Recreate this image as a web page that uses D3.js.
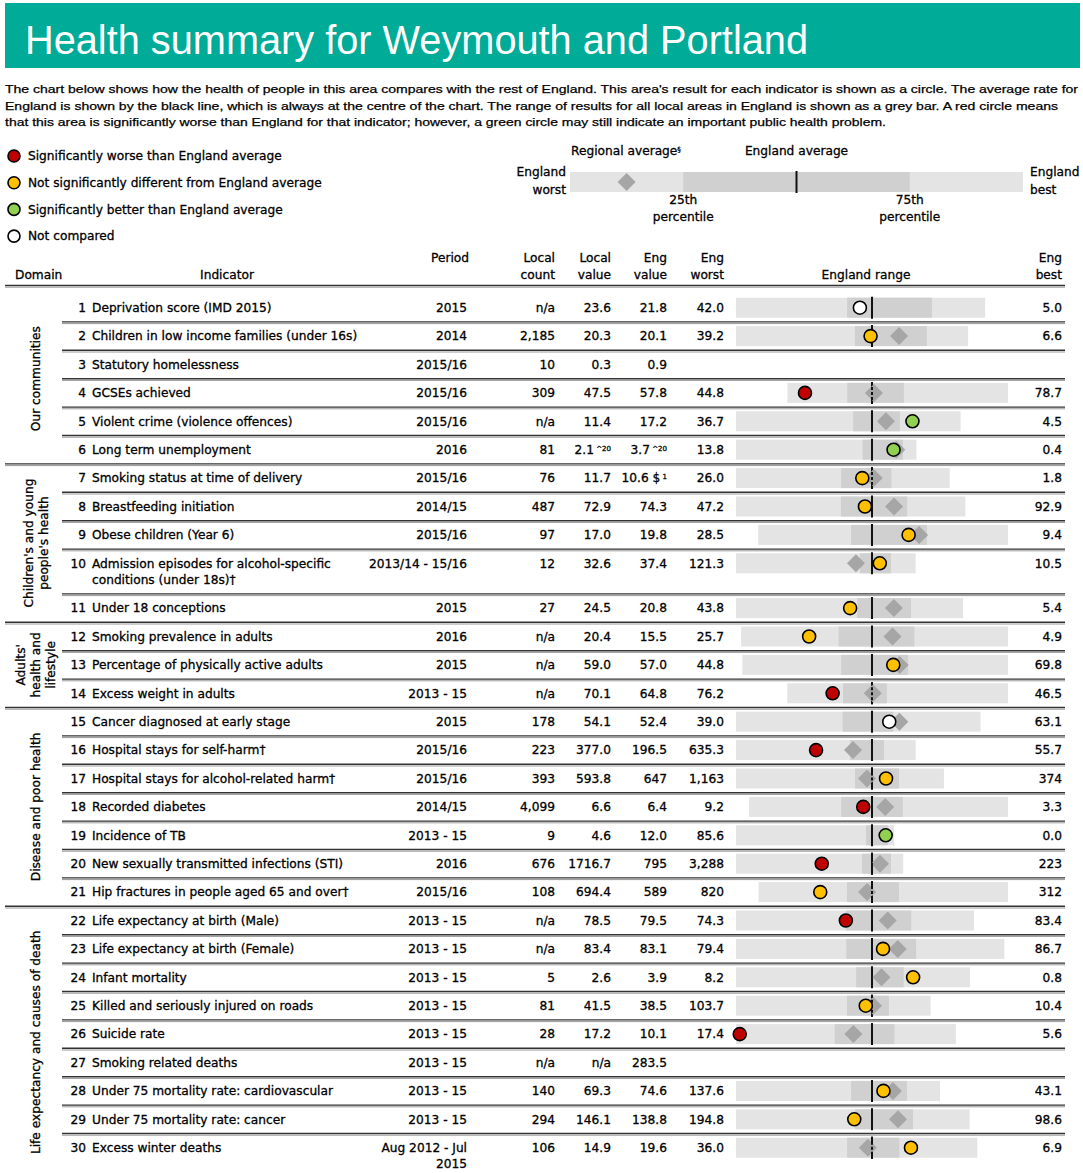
<!DOCTYPE html>
<html>
<head>
<meta charset="utf-8">
<script src="https://cdn.jsdelivr.net/npm/d3@7"></script>
<style>
  body { margin: 0; background: #fff; }
  svg text { font-family: "DejaVu Sans", sans-serif; font-size: 12.2px; fill: #000; stroke: #000; stroke-width: 0.3px; }
</style>
</head>
<body>
<svg width="1083" height="1173"></svg>
<script>
const titleText = 'Health summary for Weymouth and Portland';
const introLines = [
  "The chart below shows how the health of people in this area compares with the rest of England. This area's result for each indicator is shown as a circle. The average rate for",
  "England is shown by the black line, which is always at the centre of the chart. The range of results for all local areas in England is shown as a grey bar. A red circle means",
  "that this area is significantly worse than England for that indicator; however, a green circle may still indicate an important public health problem."
];

const legendLabels = ['Significantly worse than England average', 'Not significantly different from England average', 'Significantly better than England average', 'Not compared'];
const legendKeys = ['w', 'o', 'b', 'n'];

const domainNames = [["Our communities"], ["Children's and young", "people's health"], ["Adults'", "health and", "lifestyle"], ["Disease and poor health"], ["Life expectancy and causes of death"]];
const domainEnds = [6, 11, 14, 21, 30];

const indicators = [
  'Deprivation score (IMD 2015)',
  'Children in low income families (under 16s)',
  'Statutory homelessness',
  'GCSEs achieved',
  'Violent crime (violence offences)',
  'Long term unemployment',
  'Smoking status at time of delivery',
  'Breastfeeding initiation',
  'Obese children (Year 6)',
  'Admission episodes for alcohol-specific\nconditions (under 18s)†',
  'Under 18 conceptions',
  'Smoking prevalence in adults',
  'Percentage of physically active adults',
  'Excess weight in adults',
  'Cancer diagnosed at early stage',
  'Hospital stays for self-harm†',
  'Hospital stays for alcohol-related harm†',
  'Recorded diabetes',
  'Incidence of TB',
  'New sexually transmitted infections (STI)',
  'Hip fractures in people aged 65 and over†',
  'Life expectancy at birth (Male)',
  'Life expectancy at birth (Female)',
  'Infant mortality',
  'Killed and seriously injured on roads',
  'Suicide rate',
  'Smoking related deaths',
  'Under 75 mortality rate: cardiovascular',
  'Under 75 mortality rate: cancer',
  'Excess winter deaths'
];
const periods = ['2015', '2014', '2015/16', '2015/16', '2015/16', '2016', '2015/16', '2014/15', '2015/16', '2013/14 - 15/16', '2015', '2016', '2015', '2013 - 15', '2015', '2015/16', '2015/16', '2014/15', '2013 - 15', '2016', '2015/16', '2013 - 15', '2013 - 15', '2013 - 15', '2013 - 15', '2013 - 15', '2013 - 15', '2013 - 15', '2013 - 15', 'Aug 2012 - Jul\n2015'];
const localCounts = ['n/a', '2,185', '10', '309', 'n/a', '81', '76', '487', '97', '12', '27', 'n/a', 'n/a', 'n/a', '178', '223', '393', '4,099', '9', '676', '108', 'n/a', 'n/a', '5', '81', '28', 'n/a', '140', '294', '106'];
const localValues = ['23.6', '20.3', '0.3', '47.5', '11.4', '2.1', '11.7', '72.9', '17.0', '32.6', '24.5', '20.4', '59.0', '70.1', '54.1', '377.0', '593.8', '6.6', '4.6', '1716.7', '694.4', '78.5', '83.4', '2.6', '41.5', '17.2', 'n/a', '69.3', '146.1', '14.9'];
const engValues = ['21.8', '20.1', '0.9', '57.8', '17.2', '3.7', '10.6 $', '74.3', '19.8', '37.4', '20.8', '15.5', '57.0', '64.8', '52.4', '196.5', '647', '6.4', '12.0', '795', '589', '79.5', '83.1', '3.9', '38.5', '10.1', '283.5', '74.6', '138.8', '19.6'];
const engWorst = ['42.0', '39.2', '', '44.8', '36.7', '13.8', '26.0', '47.2', '28.5', '121.3', '43.8', '25.7', '44.8', '76.2', '39.0', '635.3', '1,163', '9.2', '85.6', '3,288', '820', '74.3', '79.4', '8.2', '103.7', '17.4', '', '137.6', '194.8', '36.0'];
const engBest = ['5.0', '6.6', '', '78.7', '4.5', '0.4', '1.8', '92.9', '9.4', '10.5', '5.4', '4.9', '69.8', '46.5', '63.1', '55.7', '374', '3.3', '0.0', '223', '312', '83.4', '86.7', '0.8', '10.4', '5.6', '', '43.1', '98.6', '6.9'];
const localNotes = ['', '', '', '', '', '^20', '', '', '', '', '', '', '', '', '', '', '', '', '', '', '', '', '', '', '', '', '', '', '', ''];
const engNotes = ['', '', '', '', '', '^20', '1', '', '', '', '', '', '', '', '', '', '', '', '', '', '', '', '', '', '', '', '', '', '', ''];
// 25th (worse side) and 75th (better side) percentiles, regional average
const eng25th = [25.5, 22.5, null, 54.0, 19.9, 4.4, 14.1, 68.1, 21.4, 44.8, 23.3, 18.1, 54.1, 68.7, 49.5, 267.5, 711.5, 7.1, 15.2, 978, 640, 78.5, 82.4, 4.4, 50.5, 12.1, null, 84.3, 145.8, 22.6];
const eng75th = [12.9, 12.4, null, 62.7, 13.2, 1.4, 8.4, 81.3, 15.6, 25.7, 14.2, 12.2, 60.4, 62.8, 54.5, 157.8, 544.6, 5.7, 3.3, 447, 534, 81.0, 84.3, 2.9, 30.4, 8.9, null, 58.4, 121.9, 16.3];
const regional = [null, 16.3, null, 58.1, 15.2, 1.9, 10.4, 78.7, 16.2, 47.3, 17.1, 13.9, 59.6, 64.7, 55.1, 257.8, 666, 6.1, null, 648, 599, 80.1, 83.8, 3.6, 38.0, 11.1, null, 64.9, 128.1, 20.1];
// w = worse, o = not different, b = better, n = not compared, '' = no marker
const significance = ['n', 'o', '', 'w', 'b', 'b', 'o', 'o', 'o', 'o', 'o', 'o', 'o', 'w', 'n', 'w', 'o', 'w', 'b', 'w', 'o', 'w', 'o', 'o', 'o', 'w', '', 'o', 'o', 'o'];

const sigColour = { w: '#C00000', o: '#FFC000', b: '#92D050', n: '#FFFFFF' };
const num = s => (s === '' || s === 'n/a') ? null : parseFloat(s.replace(/,/g, ''));

const svg = d3.select('svg');

// title bar
svg.append('rect').attr('x', 5).attr('y', 3).attr('width', 1075).attr('height', 65).attr('fill', '#00AB98');
svg.append('text').text(titleText)
  .attr('x', 25).attr('y', 54)
  .attr('textLength', 783).attr('lengthAdjust', 'spacingAndGlyphs')
  .style('font-family', '"Liberation Sans", Arial, sans-serif')
  .style('font-size', '41px').style('fill', '#fff').style('stroke', 'none');

const introLens = [1073, 1053, 881];
introLines.forEach((t, i) => {
  svg.append('text').text(t)
    .attr('x', 5).attr('y', 93 + i * 16.5)
    .attr('textLength', introLens[i]).attr('lengthAdjust', 'spacingAndGlyphs')
    .style('font-family', '"Liberation Sans Narrow", "Liberation Sans", sans-serif')
    .style('font-size', '11.5px').style('stroke-width', '0.25px');
});

// legend
const legend = svg.append('g');
legendLabels.forEach((t, i) => {
  const y = 156 + i * 26.7;
  legend.append('circle').attr('cx', 14).attr('cy', y).attr('r', 6)
    .attr('fill', sigColour[legendKeys[i]]).attr('stroke', '#000').attr('stroke-width', 1.6);
  legend.append('text').text(t).attr('x', 28).attr('y', y).attr('dy', '0.35em');
});

// key spine
const keyX = d3.scaleLinear().domain([0, 1]).range([570, 1023]);
const keyQuart = [0.25, 0.75];
const keyRegional = 0.125;
const key = svg.append('g');
key.append('rect').attr('x', keyX(0)).attr('y', 172).attr('width', keyX(1) - keyX(0)).attr('height', 20).attr('fill', '#E4E4E4');
key.append('rect').attr('x', keyX(keyQuart[0])).attr('y', 172).attr('width', keyX(keyQuart[1]) - keyX(keyQuart[0])).attr('height', 20).attr('fill', '#D0D0D0');
key.append('path').attr('d', `M${keyX(keyRegional)},173 l9,9 l-9,9 l-9,-9 z`).attr('fill', '#A6A6A6');
key.append('line').attr('x1', keyX(0.5)).attr('x2', keyX(0.5)).attr('y1', 171).attr('y2', 193).attr('stroke', '#111').attr('stroke-width', 2);
const regT = key.append('text').attr('x', 571).attr('y', 151).attr('dy', '0.35em').text('Regional average');
regT.append('tspan').text('§').attr('dy', '-0.5em').style('font-size', '7px');
key.append('text').attr('x', keyX(0.5)).attr('y', 151).attr('dy', '0.35em').attr('text-anchor', 'middle').text('England average');
[['England', 172], ['worst', 190]].forEach(([t, y]) =>
  key.append('text').attr('x', 566).attr('y', y).attr('dy', '0.35em').attr('text-anchor', 'end').text(t));
[['England', 172], ['best', 190]].forEach(([t, y]) =>
  key.append('text').attr('x', 1030).attr('y', y).attr('dy', '0.35em').text(t));
keyQuart.forEach((q, i) => {
  key.append('text').attr('x', keyX(q)).attr('y', 200).attr('dy', '0.35em').attr('text-anchor', 'middle').text(i ? '75th' : '25th');
  key.append('text').attr('x', keyX(q)).attr('y', 217).attr('dy', '0.35em').attr('text-anchor', 'middle').text('percentile');
});

// column headers
const colRight = { period: 467, count: 555, local: 611, eng: 667, worst: 724, best: 1062 };
const spineLeft = 736, spineRight = 1008;
const head = svg.append('g');
const headCols = [
  [colRight.period + 2, ['Period']], [colRight.count, ['Local', 'count']], [colRight.local, ['Local', 'value']],
  [colRight.eng, ['Eng', 'value']], [colRight.worst, ['Eng', 'worst']], [colRight.best, ['Eng', 'best']]
];
headCols.forEach(([x, lines]) => lines.forEach((t, i) =>
  head.append('text').attr('x', x).attr('y', 258 + i * 16.5).attr('dy', '0.35em').attr('text-anchor', 'end').text(t)));
head.append('text').attr('x', 15).attr('y', 274.5).attr('dy', '0.35em').text('Domain');
head.append('text').attr('x', 227).attr('y', 274.5).attr('dy', '0.35em').attr('text-anchor', 'middle').text('Indicator');
head.append('text').attr('x', 866).attr('y', 274.5).attr('dy', '0.35em').attr('text-anchor', 'middle').text('England range');

const sep = (y, x1) => {
  svg.append('line').attr('x1', x1).attr('x2', 1065).attr('y1', y).attr('y2', y).attr('stroke', '#333').attr('stroke-width', 1.4);
  svg.append('line').attr('x1', x1).attr('x2', 1065).attr('y1', y + 1.7).attr('y2', y + 1.7).attr('stroke', '#999').attr('stroke-width', 1);
};
sep(285.5, 5);

// row layout
const rowH = 28.4, lineH = 16.4;
let rowTop = 293.5;
const rows = indicators.map((name, i) => {
  const nLines = Math.max(name.split('\n').length, periods[i].split('\n').length);
  const r = { i, top: rowTop, cy: rowTop + rowH / 2, h: rowH + (nLines - 1) * lineH };
  rowTop += r.h;
  return r;
});

const body = svg.append('g');
const addLines = (txt, x, cy, anchor) => txt.split('\n').forEach((t, k) =>
  body.append('text').attr('x', x).attr('y', cy + k * 16).attr('dy', '0.35em').attr('text-anchor', anchor).text(t));
const addVal = (txt, note, x, cy) => {
  const t = body.append('text').attr('x', x).attr('y', cy).attr('dy', '0.35em').attr('text-anchor', 'end').text(txt);
  if (note) t.append('tspan').text(' ' + note).attr('dy', '-0.45em').style('font-size', '7px');
};

rows.forEach(r => {
  const i = r.i;
  body.append('text').attr('x', 86).attr('y', r.cy).attr('dy', '0.35em').attr('text-anchor', 'end').text(i + 1);
  addLines(indicators[i], 92, r.cy, 'start');
  addLines(periods[i], colRight.period, r.cy, 'end');
  addVal(localCounts[i], '', colRight.count, r.cy);
  addVal(localValues[i], localNotes[i], colRight.local, r.cy);
  addVal(engValues[i], engNotes[i], colRight.eng, r.cy);
  addVal(engWorst[i], '', colRight.worst, r.cy);
  addVal(engBest[i], '', colRight.best, r.cy);

  if (i < rows.length - 1) sep(r.top + r.h, domainEnds.includes(i + 1) ? 5 : 62);

  const A = num(engValues[i]), W = num(engWorst[i]), B = num(engBest[i]);
  if (W === null || B === null) return;
  const s = Math.sign(B - W);
  const D = Math.max(Math.abs(W - A), Math.abs(B - A));
  const x = d3.scaleLinear().domain([A - s * D, A + s * D]).range([spineLeft, spineRight]);
  const g = body.append('g');
  const bh = 20, y0 = r.cy - bh / 2;
  const [b1, b2] = [x(W), x(B)].sort((a, b) => a - b);
  g.append('rect').attr('x', b1).attr('y', y0).attr('width', b2 - b1).attr('height', bh).attr('fill', '#E4E4E4');
  const [q1, q2] = [x(eng25th[i]), x(eng75th[i])].sort((a, b) => a - b);
  g.append('rect').attr('x', q1).attr('y', y0).attr('width', q2 - q1).attr('height', bh).attr('fill', '#D0D0D0');
  g.append('line').attr('x1', x(A)).attr('x2', x(A)).attr('y1', r.cy - 11).attr('y2', r.cy + 11).attr('stroke', '#111').attr('stroke-width', 2);
  if (regional[i] !== null) {
    const rx = x(regional[i]);
    g.append('path').attr('d', `M${rx},${r.cy - 9} l9,9 l-9,9 l-9,-9 z`).attr('fill', '#A6A6A6');
    if (Math.abs(rx - x(A)) < 9) {
      g.append('line').attr('x1', x(A)).attr('x2', x(A)).attr('y1', r.cy - 11).attr('y2', r.cy + 11)
        .attr('stroke', '#111').attr('stroke-width', 2).attr('stroke-dasharray', '3,2');
    }
  }
  const L = num(localValues[i]);
  if (L !== null && significance[i]) {
    g.append('circle').attr('cx', x(L)).attr('cy', r.cy).attr('r', 6.5)
      .attr('fill', sigColour[significance[i]]).attr('stroke', '#000').attr('stroke-width', 1.6);
  }
});

// domain labels
const dom = svg.append('g');
let startRow = 0;
domainEnds.forEach((end, d) => {
  const y1 = rows[startRow].top, last = rows[end - 1];
  const cy = (y1 + last.top + last.h) / 2;
  const lines = domainNames[d];
  lines.forEach((t, k) => {
    const cx = 36 + (k - (lines.length - 1) / 2) * 15;
    dom.append('text').attr('transform', `translate(${cx},${cy}) rotate(-90)`)
      .attr('dy', '0.35em').attr('text-anchor', 'middle').text(t);
  });
  startRow = end;
});
</script>
</body>
</html>
